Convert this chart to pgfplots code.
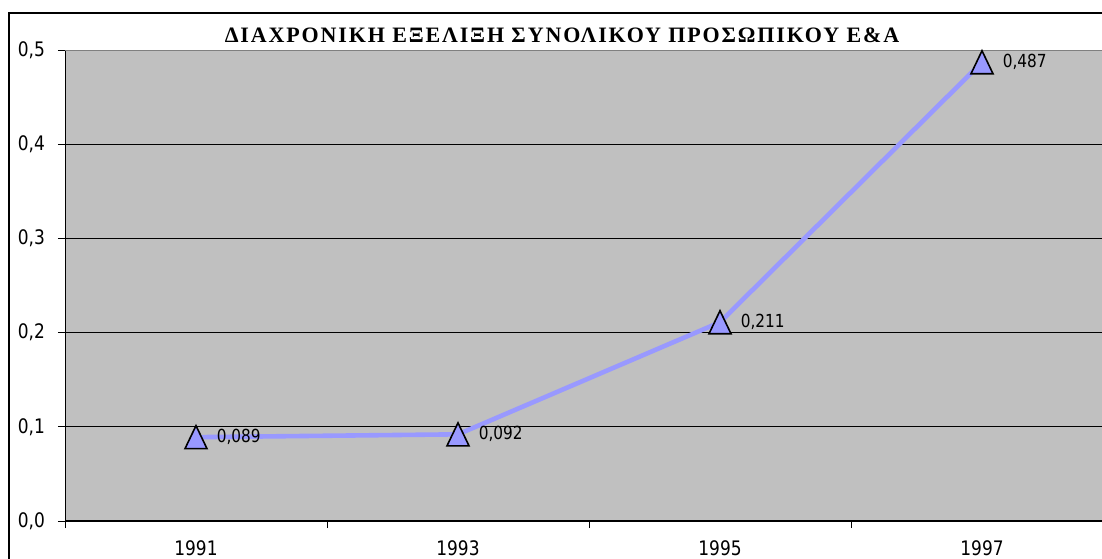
\documentclass[border=0pt]{standalone}
\usepackage{fontspec}
\setmainfont{DejaVu Sans}[FakeStretch=0.85]
\newfontfamily\titlefont{Liberation Serif}[LetterSpace=8.5]
\usepackage{pgfplots}
\pgfplotsset{compat=1.18}

\definecolor{plotbg}{HTML}{C0C0C0}
\definecolor{linecol}{HTML}{9999FF}
\definecolor{topline}{HTML}{808080}

% Excel-style triangle marker, centred on its bounding box
\pgfdeclareplotmark{xltri}{%
  \pgfpathmoveto{\pgfqpoint{0pt}{5.75pt}}%
  \pgfpathlineto{\pgfqpoint{-5.5pt}{-5.75pt}}%
  \pgfpathlineto{\pgfqpoint{5.5pt}{-5.75pt}}%
  \pgfpathclose
  \pgfusepathqfillstroke}

\begin{document}
\begin{tikzpicture}
\useasboundingbox (0,0) rectangle (551pt,279pt);
\clip (0,0) rectangle (551pt,279pt);
\draw[line width=0.75pt] (4.5pt,-20pt) -- (4.5pt,272.5pt) -- (620pt,272.5pt);

\node[anchor=base, font=\titlefont\bfseries\fontsize{11pt}{12pt}\selectfont]
  at (281pt,257.5pt) {ΔΙΑΧΡΟΝΙΚΗ ΕΞΕΛΙΞΗ ΣΥΝΟΛΙΚΟΥ ΠΡΟΣΩΠΙΚΟΥ Ε\&Α};

\begin{axis}[
  at={(32.5pt,18.5pt)}, anchor=south west,
  scale only axis, width=524pt, height=235.5pt,
  xmin=-0.5, xmax=3.5, ymin=0, ymax=0.5,
  axis background/.style={fill=plotbg},
  axis line style={draw=none},
  tick align=outside,
  xtick pos=bottom, ytick pos=left,
  xtick={0,1,2,3}, xticklabels={1991,1993,1995,1997},
  major x tick style={draw=none},
  minor xtick={-0.5,0.5,1.5,2.5,3.5},
  minor tick length=3.5pt, major tick length=3.5pt,
  every tick/.style={black, line width=0.5pt},
  ytick={0,0.1,0.2,0.3,0.4,0.5},
  ymajorgrids, major grid style={black, line width=0.5pt},
  /pgf/number format/assume math mode=true,
  yticklabel={\pgfmathprintnumber[fixed,fixed zerofill,precision=1,use comma]{\tick}},
  tick label style={font=\fontsize{10pt}{11pt}\selectfont},
  yticklabel style={xshift=-3pt},
  xticklabel style={yshift=-3pt},
  point meta=y,
  nodes near coords={\pgfmathprintnumber[fixed,fixed zerofill,precision=3,use comma,assume math mode=true]{\pgfplotspointmeta}},
  every node near coord/.append style={anchor=west, inner sep=0pt, xshift=10pt,
    font=\fontsize{9pt}{10pt}\selectfont, black},
]
\addplot[color=linecol, line width=2.3pt,
  mark=xltri, mark options={fill=linecol, draw=black, line width=0.8pt}]
  coordinates {(0,0.089) (1,0.092) (2,0.211) (3,0.487)};

\draw[black, line width=0.75pt] (rel axis cs:0,0) -- (rel axis cs:1,0);
\draw[black, line width=0.75pt] (rel axis cs:0,0) -- (rel axis cs:0,1);
\draw[topline, line width=1pt] (rel axis cs:0,1) -- (rel axis cs:1,1);
\end{axis}
\end{tikzpicture}
\end{document}
